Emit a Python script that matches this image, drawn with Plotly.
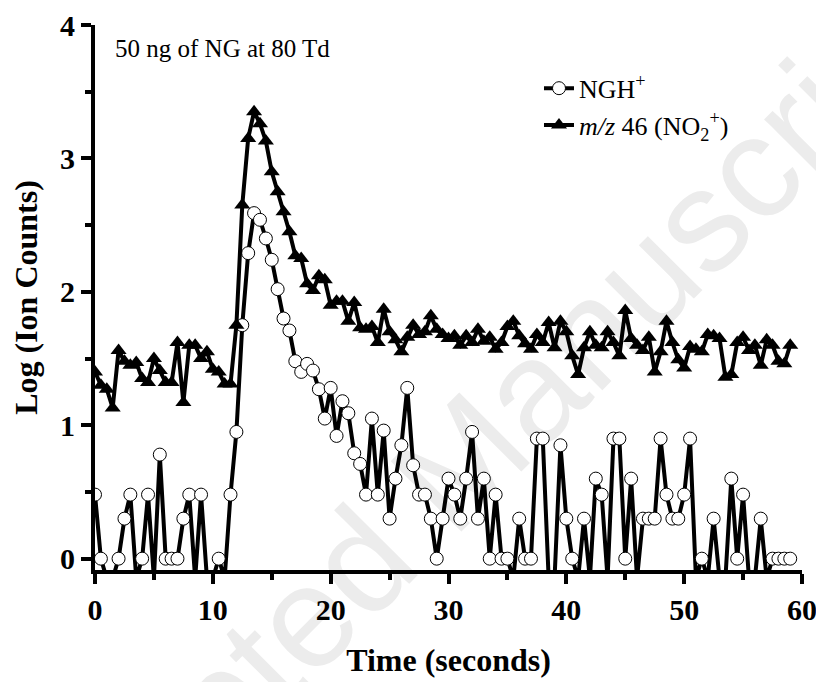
import plotly.graph_objects as go

# time axis, one sample every 0.5 s
time_s = [0, 0.5, 1, 1.5, 2, 2.5, 3, 3.5, 4, 4.5, 5, 5.5, 6, 6.5, 7, 7.5, 8, 8.5, 9, 9.5,
          10, 10.5, 11, 11.5, 12, 12.5, 13, 13.5, 14, 14.5, 15, 15.5, 16, 16.5, 17, 17.5, 18, 18.5, 19, 19.5,
          20, 20.5, 21, 21.5, 22, 22.5, 23, 23.5, 24, 24.5, 25, 25.5, 26, 26.5, 27, 27.5, 28, 28.5, 29, 29.5,
          30, 30.5, 31, 31.5, 32, 32.5, 33, 33.5, 34, 34.5, 35, 35.5, 36, 36.5, 37, 37.5, 38, 38.5, 39, 39.5,
          40, 40.5, 41, 41.5, 42, 42.5, 43, 43.5, 44, 44.5, 45, 45.5, 46, 46.5, 47, 47.5, 48, 48.5, 49, 49.5,
          50, 50.5, 51, 51.5, 52, 52.5, 53, 53.5, 54, 54.5, 55, 55.5, 56, 56.5, 57, 57.5, 58, 58.5, 59]

# log(ion counts); -0.15 = zero counts (drops below the axis)
ngh_log = [0.48, 0, -0.15, -0.15, 0, 0.30, 0.48, -0.15, 0, 0.48,
           -0.15, 0.78, 0, 0, 0, 0.30, 0.48, -0.15, 0.48, -0.15,
           -0.15, 0, -0.15, 0.48, 0.95, 1.75, 2.29, 2.59, 2.54, 2.40,
           2.24, 2.02, 1.80, 1.71, 1.48, 1.40, 1.46, 1.41, 1.27, 1.05,
           1.28, 0.92, 1.18, 1.09, 0.79, 0.71, 0.48, 1.05, 0.48, 0.96,
           0.30, 0.60, 0.85, 1.28, 0.70, 0.48, 0.48, 0.30, 0, 0.30,
           0.60, 0.48, 0.30, 0.60, 0.95, 0.30, 0.60, 0, 0.48, 0,
           0, -0.15, 0.30, 0, 0, 0.90, 0.90, -0.15, -0.15, 0.85,
           0.30, 0, -0.15, 0.30, -0.15, 0.60, 0.48, -0.15, 0.90, 0.90,
           0, 0.60, -0.15, 0.30, 0.30, 0.30, 0.90, 0.48, 0.30, 0.30,
           0.48, 0.90, -0.15, 0, -0.15, 0.30, -0.15, -0.15, 0.60, 0,
           0.48, -0.15, -0.15, 0.30, -0.15, 0, 0, 0, 0]

no2_log = [1.40, 1.30, 1.27, 1.13, 1.56, 1.48, 1.45, 1.47, 1.35, 1.32,
           1.50, 1.41, 1.32, 1.32, 1.62, 1.17, 1.60, 1.60, 1.50, 1.55,
           1.42, 1.40, 1.31, 1.31, 1.75, 2.65, 3.15, 3.35, 3.26, 3.13,
           2.90, 2.75, 2.60, 2.45, 2.27, 2.25, 2.06, 2.01, 2.12, 2.09,
           1.90, 1.93, 1.93, 1.78, 1.92, 1.73, 1.72, 1.74, 1.62, 1.87,
           1.70, 1.64, 1.55, 1.66, 1.75, 1.68, 1.70, 1.82, 1.72, 1.68,
           1.65, 1.67, 1.60, 1.67, 1.62, 1.72, 1.63, 1.66, 1.57, 1.62,
           1.74, 1.78, 1.67, 1.61, 1.57, 1.68, 1.62, 1.77, 1.58, 1.78,
           1.70, 1.52, 1.38, 1.58, 1.70, 1.60, 1.58, 1.70, 1.62, 1.52,
           1.86, 1.65, 1.60, 1.56, 1.66, 1.40, 1.55, 1.78, 1.62, 1.49,
           1.43, 1.59, 1.57, 1.55, 1.68, 1.67, 1.65, 1.36, 1.38, 1.62,
           1.66, 1.56, 1.60, 1.45, 1.64, 1.60, 1.48, 1.46, 1.60]

SERIF = "Liberation Serif"

fig = go.Figure()

fig.add_trace(go.Scatter(
    x=time_s, y=ngh_log, mode="lines+markers", name="NGH<sup>+</sup>",
    line=dict(color="black", width=4),
    marker=dict(symbol="circle", size=13, color="white", line=dict(color="black", width=1)),
))
fig.add_trace(go.Scatter(
    x=time_s, y=no2_log, mode="lines+markers", name="<i>m/z</i> 46 (NO<sub>2</sub><sup>+</sup>)",
    line=dict(color="black", width=4),
    marker=dict(symbol="triangle-up", size=14, color="black", line=dict(color="black", width=0)),
))

tickfont = dict(family=SERIF, size=30, color="black", weight="bold")
titlefont = dict(family=SERIF, size=32, color="black", weight="bold")

fig.update_xaxes(
    range=[0, 60], dtick=10, tick0=0, automargin=False,
    showline=True, linewidth=4, linecolor="black",
    ticks="outside", ticklen=10, tickwidth=4, tickcolor="black",
    minor=dict(ticks="outside", dtick=5, ticklen=6, tickwidth=4, tickcolor="black"),
    showgrid=False, zeroline=False, tickfont=tickfont,
    title=dict(text="Time (seconds)", font=titlefont, standoff=25),
)
fig.update_yaxes(
    range=[-0.085, 4.0], dtick=1, tick0=0, automargin=False,
    showline=True, linewidth=4, linecolor="black",
    ticks="outside", ticklen=10, tickwidth=4, tickcolor="black",
    minor=dict(ticks="outside", dtick=0.5, ticklen=6, tickwidth=4, tickcolor="black"),
    showgrid=False, zeroline=False, tickfont=tickfont,
    title=dict(text="Log (Ion Counts)", font=titlefont, standoff=14),
)

fig.add_annotation(
    text="50 ng of NG at 80 Td", xref="paper", yref="paper", x=0.025, y=0.985,
    xanchor="left", yanchor="top", showarrow=False,
    font=dict(family=SERIF, size=25, color="black"),
)

# faint page watermark, kept under the data
fig.add_shape(
    type="line", xref="paper", yref="paper", x0=0.417, y0=-0.113, x1=0.700, y1=0.255,
    line=dict(color="rgba(0,0,0,0)", width=1), layer="below",
    label=dict(text="Accepted Manuscript", textposition="middle",
               font=dict(family="Liberation Sans", size=145, color="#ececec")),
)

# the page body adds an 8 px offset, so the figure is 816 x 674
fig.update_layout(
    width=816, height=674,
    margin=dict(l=87, r=22, t=17, b=112),
    paper_bgcolor="white", plot_bgcolor="white",
    showlegend=True,
    legend=dict(x=0.628, y=0.927, xanchor="left", yanchor="top",
                font=dict(family=SERIF, size=26, color="black"),
                bgcolor="rgba(0,0,0,0)", tracegroupgap=0),
)

fig.write_html("out.html")
